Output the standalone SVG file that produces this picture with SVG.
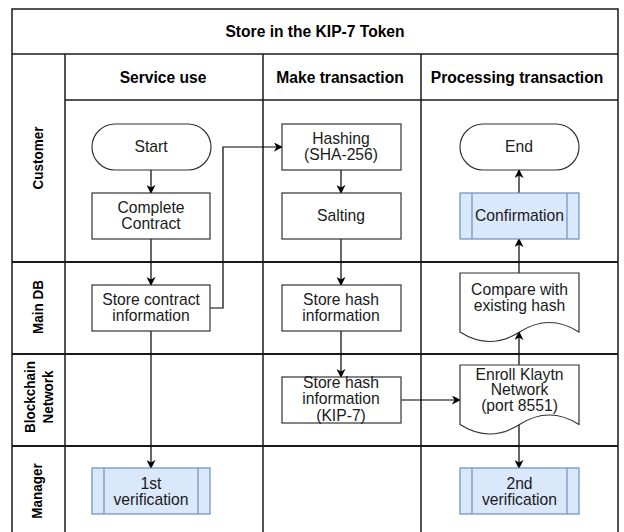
<svg xmlns="http://www.w3.org/2000/svg" width="624" height="532" viewBox="0 0 624 532">
  <style>
    .grid { fill: none; stroke: #1a1a1a; stroke-width: 1.5; }
    .row { fill: none; stroke: #1a1a1a; stroke-width: 2; }
    .box { fill: #ffffff; stroke: #333333; stroke-width: 1.2; }
    .proc { fill: #dae8fc; stroke: #6c8ebf; stroke-width: 1.2; }
    .edge { fill: none; stroke: #000000; stroke-width: 1.2; }
    text { font-family: "Liberation Sans", Arial, sans-serif; fill: #1a1a1a; }
    .lbl { font-size: 15.7px; text-anchor: middle; }
    .hdr { font-size: 15.6px; font-weight: bold; text-anchor: middle; fill: #000; }
    .lane { font-size: 15.5px; font-weight: bold; text-anchor: middle; fill: #000; }
  </style>
  <defs>
    <marker id="arrow" viewBox="0 0 10 10" refX="9" refY="5" markerWidth="9" markerHeight="9" markerUnits="userSpaceOnUse" orient="auto">
      <path d="M0,0 L10,5 L0,10 L3,5 Z" fill="#000000"/>
    </marker>
  </defs>

  <rect width="624" height="532" fill="#ffffff"/>

  <!-- pool frame, title and lane grid -->
  <g id="pool">
    <path class="grid" d="M12,532 V9 H618 V532"/>
    <line class="grid" x1="12" y1="54" x2="618" y2="54"/>
    <line class="grid" x1="65" y1="100" x2="618" y2="100"/>
    <line class="grid" x1="65" y1="54" x2="65" y2="532"/>
    <line class="grid" x1="263" y1="54" x2="263" y2="532"/>
    <line class="grid" x1="421" y1="54" x2="421" y2="532"/>
    <line class="row" x1="12" y1="262" x2="618" y2="262"/>
    <line class="row" x1="12" y1="354" x2="618" y2="354"/>
    <line class="row" x1="12" y1="446" x2="618" y2="446"/>
    <text class="hdr" x="315" y="37">Store in the KIP-7 Token</text>
    <text class="hdr" x="163" y="83">Service use</text>
    <text class="hdr" x="340" y="83">Make transaction</text>
    <text class="hdr" x="517" y="83">Processing transaction</text>
    <!-- lane titles, set a little narrower along their length -->
    <text class="lane" transform="translate(43,158) rotate(-90) scale(0.87,1)">Customer</text>
    <text class="lane" transform="translate(43,307) rotate(-90) scale(0.87,1)">Main DB</text>
    <text class="lane" transform="translate(35,397) rotate(-90) scale(0.87,1)">Blockchain</text>
    <text class="lane" transform="translate(53,397) rotate(-90) scale(0.87,1)">Network</text>
    <text class="lane" transform="translate(42,491) rotate(-90) scale(0.87,1)">Manager</text>
  </g>

  <!-- connectors -->
  <g id="connectors">
    <line class="edge" x1="151" y1="170" x2="151" y2="193" marker-end="url(#arrow)"/>
    <line class="edge" x1="151" y1="239" x2="151" y2="285" marker-end="url(#arrow)"/>
    <polyline class="edge" points="210,308 223,308 223,147 282,147" marker-end="url(#arrow)"/>
    <line class="edge" x1="341" y1="170" x2="341" y2="193" marker-end="url(#arrow)"/>
    <line class="edge" x1="341" y1="239" x2="341" y2="285" marker-end="url(#arrow)"/>
    <line class="edge" x1="341" y1="331" x2="341" y2="377" marker-end="url(#arrow)"/>
    <line class="edge" x1="401" y1="400" x2="460" y2="400" marker-end="url(#arrow)"/>
    <line class="edge" x1="519" y1="365" x2="519" y2="332" marker-end="url(#arrow)"/>
    <line class="edge" x1="519" y1="273" x2="519" y2="239" marker-end="url(#arrow)"/>
    <line class="edge" x1="519" y1="193" x2="519" y2="170" marker-end="url(#arrow)"/>
    <line class="edge" x1="519" y1="425" x2="519" y2="468" marker-end="url(#arrow)"/>
    <line class="edge" x1="151" y1="331" x2="151" y2="468" marker-end="url(#arrow)"/>
  </g>

  <!-- Service use column -->
  <g id="start">
    <rect class="box" x="92" y="124" width="119" height="46" rx="23"/>
    <text class="lbl" x="151" y="152">Start</text>
  </g>
  <g id="complete-contract">
    <rect class="box" x="92" y="193" width="118" height="46"/>
    <text class="lbl" x="151" y="213">Complete</text>
    <text class="lbl" x="151" y="229">Contract</text>
  </g>
  <g id="store-contract">
    <rect class="box" x="92" y="285" width="118" height="46"/>
    <text class="lbl" x="151" y="305">Store contract</text>
    <text class="lbl" x="151" y="321">information</text>
  </g>
  <g id="first-verification">
    <rect class="proc" x="92" y="468" width="118" height="46"/>
    <line class="proc" x1="104" y1="468" x2="104" y2="514"/>
    <line class="proc" x1="198" y1="468" x2="198" y2="514"/>
    <text class="lbl" x="151" y="489">1st</text>
    <text class="lbl" x="151" y="505">verification</text>
  </g>

  <!-- Make transaction column -->
  <g id="hashing">
    <rect class="box" x="282" y="124" width="119" height="46"/>
    <text class="lbl" x="341" y="144">Hashing</text>
    <text class="lbl" x="341" y="160">(SHA-256)</text>
  </g>
  <g id="salting">
    <rect class="box" x="282" y="193" width="119" height="46"/>
    <text class="lbl" x="341" y="221">Salting</text>
  </g>
  <g id="store-hash">
    <rect class="box" x="282" y="285" width="119" height="46"/>
    <text class="lbl" x="341" y="305">Store hash</text>
    <text class="lbl" x="341" y="321">information</text>
  </g>
  <g id="store-hash-kip7">
    <rect class="box" x="282" y="377" width="119" height="46"/>
    <text class="lbl" x="341" y="388">Store hash</text>
    <text class="lbl" x="341" y="404">information</text>
    <text class="lbl" x="341" y="421">(KIP-7)</text>
  </g>

  <!-- Processing transaction column -->
  <g id="end">
    <rect class="box" x="460" y="124" width="119" height="46" rx="23"/>
    <text class="lbl" x="519" y="152">End</text>
  </g>
  <g id="confirmation">
    <rect class="proc" x="460" y="193" width="119" height="46"/>
    <line class="proc" x1="472" y1="193" x2="472" y2="239"/>
    <line class="proc" x1="567" y1="193" x2="567" y2="239"/>
    <text class="lbl" x="519.5" y="221">Confirmation</text>
  </g>
  <g id="compare-hash">
    <path class="box" d="M460,273 H579 V332 Q549.25,313 519.5,332 T460,332 Z"/>
    <text class="lbl" x="519.5" y="295">Compare with</text>
    <text class="lbl" x="519.5" y="311">existing hash</text>
  </g>
  <g id="enroll-klaytn">
    <path class="box" d="M460,365 H579 V424.5 Q549.25,405.5 519.5,424.5 T460,424.5 Z"/>
    <text class="lbl" x="519.5" y="379.5">Enroll Klaytn</text>
    <text class="lbl" x="519.5" y="395">Network</text>
    <text class="lbl" x="519.5" y="411">(port 8551)</text>
  </g>
  <g id="second-verification">
    <rect class="proc" x="460" y="468" width="119" height="46"/>
    <line class="proc" x1="472" y1="468" x2="472" y2="514"/>
    <line class="proc" x1="567" y1="468" x2="567" y2="514"/>
    <text class="lbl" x="519.5" y="489">2nd</text>
    <text class="lbl" x="519.5" y="505">verification</text>
  </g>
</svg>
